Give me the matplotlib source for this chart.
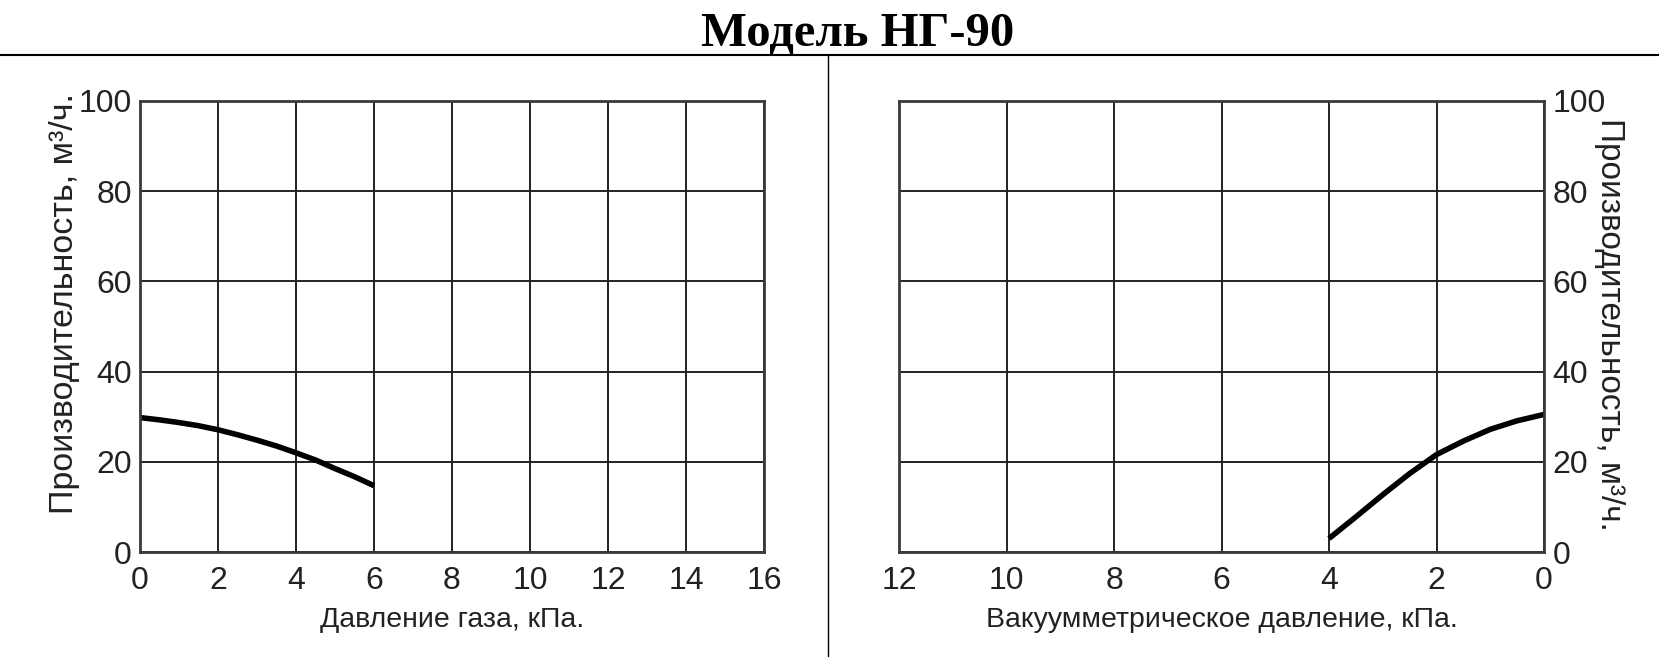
import matplotlib
matplotlib.use("Agg")
import matplotlib.pyplot as plt
from matplotlib.lines import Line2D

# Данные
gas_p = [0, 0.5, 1, 1.5, 2, 2.5, 3, 3.5, 4, 4.5, 5, 5.5, 6]
gas_q = [29.8, 29.3, 28.7, 28.0, 27.1, 26.0, 24.8, 23.5, 22.0, 20.4, 18.5, 16.7, 14.7]

vac_p = [4, 3.5, 3, 2.5, 2, 1.5, 1, 0.5, 0]
vac_q = [3.0, 7.8, 12.7, 17.4, 21.6, 24.6, 27.2, 29.1, 30.5]

left_xticks = [0, 2, 4, 6, 8, 10, 12, 14, 16]
right_xticks = [12, 10, 8, 6, 4, 2, 0]
yticks = [0, 20, 40, 60, 80, 100]

TITLE = "Модель НГ-90"
YLABEL = "Производительность, м³/ч."
XLABEL_LEFT = "Давление газа, кПа."
XLABEL_RIGHT = "Вакуумметрическое давление, кПа."

NARROW = ["Liberation Sans Narrow", "Liberation Sans", "DejaVu Sans"]
REGULAR = ["Liberation Sans", "DejaVu Sans"]
plt.rcParams["font.family"] = NARROW

GRID_C = "#222222"
TEXT_C = "#222222"

fig = plt.figure(figsize=(16.59, 6.57), dpi=100)

ax1 = fig.add_axes([0.0844, 0.1598, 0.3761, 0.6865])
ax2 = fig.add_axes([0.5419, 0.1598, 0.3888, 0.6865])

for ax in (ax1, ax2):
    ax.set_ylim(0, 100)
    ax.set_yticks(yticks)
    ax.grid(True, color=GRID_C, linewidth=1.4)
    ax.set_axisbelow(True)
    for s in ax.spines.values():
        s.set_color("#3a3a3a")
        s.set_linewidth(2)
    ax.tick_params(length=0, labelsize=23, colors=TEXT_C)
    ax.tick_params(axis="x", pad=10)
    ax.tick_params(axis="y", pad=6)

# левый график
ax1.set_xlim(0, 16)
ax1.set_xticks(left_xticks)
ax1.plot(gas_p, gas_q, color="black", linewidth=4, solid_capstyle="butt")
ax1.set_xlabel(XLABEL_LEFT, fontsize=20.5, color=TEXT_C, labelpad=8)
ax1.set_ylabel(YLABEL, fontsize=24.5, color=TEXT_C, family=REGULAR,
               va="center")
ax1.yaxis.set_label_coords(-0.121, 0.55)

# правый график
ax2.set_xlim(12, 0)
ax2.set_xticks(right_xticks)
ax2.plot(vac_p, vac_q, color="black", linewidth=4, solid_capstyle="butt")
ax2.yaxis.tick_right()
ax2.yaxis.set_label_position("right")
ax2.set_xlabel(XLABEL_RIGHT, fontsize=20.5, color=TEXT_C, labelpad=8)
ax2.set_ylabel(YLABEL, fontsize=24, color=TEXT_C, family=REGULAR,
               rotation=-90, va="center")
ax2.yaxis.set_label_coords(1.102, 0.505)

fig.text(0.517, 0.949, TITLE, ha="center", va="center", fontsize=35,
         fontweight="bold", family=["Liberation Serif", "DejaVu Serif"])

fig.add_artist(Line2D([0, 1], [0.916, 0.916], color="black", linewidth=1.5))
fig.add_artist(Line2D([0.499, 0.499], [0, 0.916], color="black", linewidth=1))

fig.savefig("out.png", dpi=100)
